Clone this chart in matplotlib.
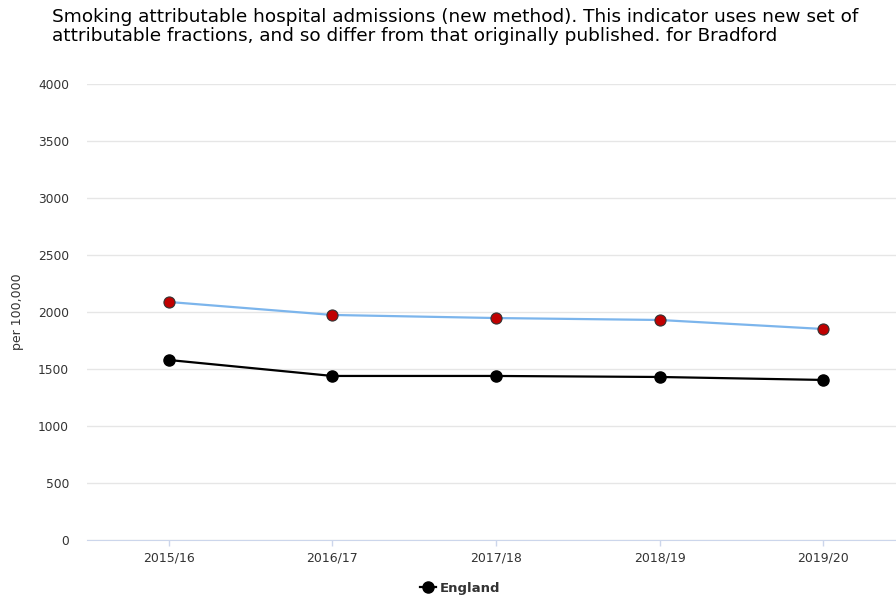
import matplotlib.pyplot as plt
import numpy as np

periods = ['2015/16', '2016/17', '2017/18', '2018/19', '2019/20']
bradford = [2088, 1974, 1947, 1930, 1851]
england = [1579, 1439, 1439, 1430, 1404]
y_ticks = [0, 500, 1000, 1500, 2000, 2500, 3000, 3500, 4000]

fig = plt.figure(figsize=(8.96, 5.96), dpi=100)
# plot area runs a little past the right edge of the figure
ax = fig.add_axes([87 / 896, 56 / 596, 818 / 896, 456 / 596])

x = np.arange(len(periods))
ax.plot(x, bradford, color='#7cb5ec', linewidth=1.6, marker='o', markersize=8,
        markerfacecolor='#c00000', markeredgecolor='#333333', markeredgewidth=0.8, zorder=3)
ax.plot(x, england, color='black', linewidth=1.6, marker='o', markersize=8,
        markerfacecolor='black', markeredgecolor='black', label='England', zorder=3)

ax.set_xlim(-0.5, len(periods) - 0.5)
ax.set_ylim(0, 4000)
ax.set_yticks(y_ticks)
ax.set_xticks(x)
ax.set_xticklabels(periods)
ax.tick_params(axis='y', labelsize=8.8, colors='#333333', length=0, pad=13)
ax.tick_params(axis='x', labelsize=9, labelcolor='#333333', color='#ccd6eb',
               length=4, width=1, pad=4)
ax.grid(axis='y', color='#e6e6e6', linewidth=1)
ax.set_axisbelow(True)
for side in ['top', 'right', 'left']:
    ax.spines[side].set_visible(False)
ax.spines['bottom'].set_color('#ccd6eb')

ax.set_ylabel('per 100,000', fontsize=9, color='#333333')
ax.yaxis.set_label_coords(-0.077, 0.5)

fig.text(52 / 896, 1 - 8 / 596,
         'Smoking attributable hospital admissions (new method). This indicator uses new set of\n'
         'attributable fractions, and so differ from that originally published. for Bradford',
         fontsize=13.3, family='DejaVu Sans', va='top', ha='left', color='black', linespacing=1.1)

fig.legend(handles=[ax.lines[1]], labels=['England'], loc='lower center',
           bbox_to_anchor=(460 / 896, -0.018), frameon=False, handlelength=1.2,
           prop={'size': 9.5, 'weight': 'bold'}, labelcolor='#333333', handletextpad=0.3)

fig.savefig('out.png', dpi=100)
